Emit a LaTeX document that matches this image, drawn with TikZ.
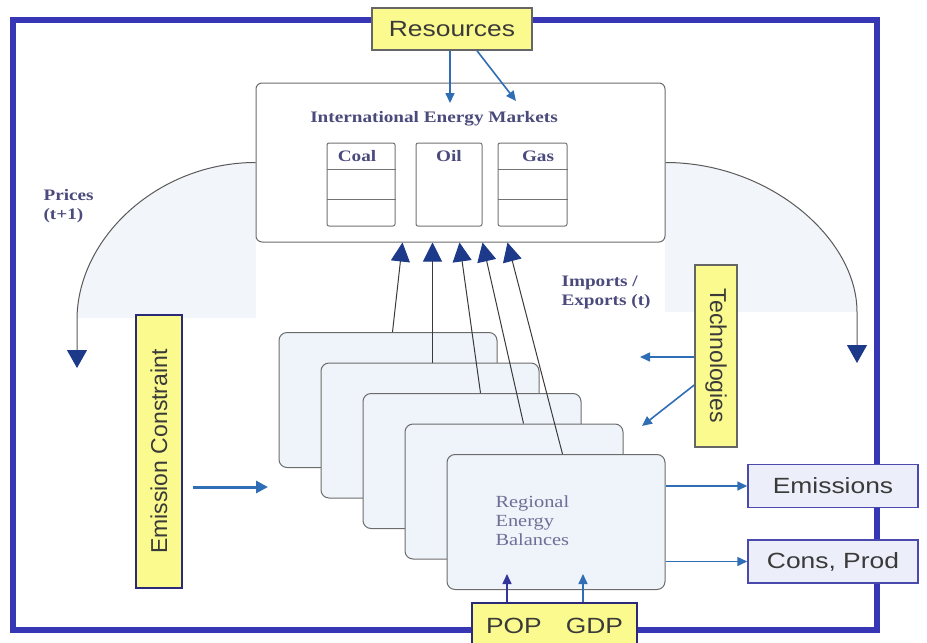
\documentclass[tikz,border=0pt]{standalone}
\usepackage{fontspec}
\setmainfont{Liberation Serif}[FakeStretch=1.2]
\setsansfont{Liberation Sans}[FakeStretch=1.2]
\newfontfamily\upsans{Liberation Sans}
\usetikzlibrary{arrows.meta,calc}
\definecolor{frameblue}{HTML}{3737B5}
\definecolor{tintblue}{HTML}{F2F6FB}
\definecolor{boxyellow}{HTML}{FBFA8E}
\definecolor{navy}{HTML}{2A2A78}
\definecolor{arrowblue}{HTML}{2F6DB5}
\definecolor{popviolet}{HTML}{34349A}
\definecolor{tipnavy}{HTML}{1D3A8A}
\definecolor{outfill}{HTML}{ECEEF9}
\definecolor{outdraw}{HTML}{4A4AAE}
\definecolor{regfill}{HTML}{EEF4FA}
\definecolor{inkgray}{HTML}{3A3A3A}
\definecolor{labelink}{HTML}{4A4A7C}
\tikzset{
  mktBox/.style={draw=gray!85!black, fill=white, rounded corners=6pt, line width=1pt},
  cellBox/.style={draw=gray!90!black, fill=white, rounded corners=2pt, line width=1pt},
  cellLine/.style={draw=gray!90!black, line width=1pt},
  regBox/.style={draw=gray!85!black, fill=regfill, rounded corners=8pt, line width=1pt},
  yellowBox/.style={draw=gray!80!black, fill=boxyellow, line width=1.5pt, text=inkgray, font=\sffamily\fontsize{22}{26}\selectfont},
  sideBox/.style={yellowBox, font=\upsans\fontsize{23}{26}\selectfont},
  outBox/.style={draw=outdraw, fill=outfill, line width=1.5pt, text=inkgray, font=\sffamily\fontsize{22}{26}\selectfont},
  noteLabel/.style={font=\bfseries\fontsize{16}{19}\selectfont, text=labelink, align=left},
  regLabel/.style={font=\fontsize{17}{19}\selectfont, text=labelink!80, align=left},
  blueArrow/.style={draw=arrowblue, line width=1.6pt, -{Triangle[length=10pt,width=9pt]}},
  thickArrow/.style={draw=arrowblue, line width=3pt, -{Triangle[length=12pt,width=12pt]}},
  popArrow/.style={draw=popviolet, line width=1.6pt, -{Triangle[length=10pt,width=9pt]}},
  importArrow/.style={draw=inkgray, line width=1pt, -{Triangle[length=19pt,width=19pt,color=tipnavy]}},
  priceArrow/.style={draw=gray!70!black, line width=1pt, -{Triangle[length=18pt,width=20pt,color=tipnavy]}}
}
\begin{document}
\begin{tikzpicture}[x=1pt,y=-1pt]
  \useasboundingbox (0,0) rectangle (927,643);
  \fill[tintblue] (77,318) .. controls (77,238) and (158,162.5) .. (256,162.5) -- (256,318) -- cycle;
  \fill[tintblue] (857,312) .. controls (857,238) and (769,162.5) .. (665,162.5) -- (665,312) -- cycle;
  \draw[frameblue, line width=6pt] (13,20) rectangle (877,630);

  \node[mktBox, minimum width=409pt, minimum height=159pt] (market) at (460.5,162.5) {};
  \node[noteLabel] (mkttitle) at (434,119) {International Energy Markets};
  \node[cellBox, minimum width=68pt, minimum height=83pt] (coal) at (361,184.5) {};
  \node[cellBox, minimum width=66pt, minimum height=83pt] (oil) at (449,184.5) {};
  \node[cellBox, minimum width=69pt, minimum height=83pt] (gas) at (532.5,184.5) {};
  \foreach \c in {coal,gas}
    \foreach \y in {169,199}
      \draw[cellLine] (\c.west |- 0,\y) -- (\c.east |- 0,\y);
  \node[noteLabel] (coallab) at (357,156) {Coal};
  \node[noteLabel] (oillab) at (449,156) {Oil};
  \node[noteLabel] (gaslab) at (538,156) {Gas};

  \node[yellowBox, minimum width=160pt, minimum height=42pt] (res) at (452,29) {Resources};
  \coordinate (r1) at (450,103);
  \coordinate (r2) at (516,101);
  \draw[blueArrow] ([xshift=-2pt]res.south) -- (r1);
  \draw[blueArrow] ([xshift=25pt]res.south) -- (r2);

  \coordinate (pl) at (77,368);
  \coordinate (pr) at (857,363);
  \draw[priceArrow] (market.west) .. controls (158,162.5) and (77,238) .. (77,320) -- (pl);
  \draw[priceArrow] (market.east) .. controls (769,162.5) and (857,238) .. (857,312) -- (pr);
  \node[noteLabel, anchor=west] (prices) at (40,206) {Prices\\(t+1)};
  \node[noteLabel, anchor=west] (imports) at (558,292) {Imports /\\Exports (t)};

  \foreach \i in {1,...,5}
    \node[regBox, minimum width=218pt, minimum height=135pt] (reg\i) at ({388+42*(\i-1)},{400+30.5*(\i-1)}) {};
  \node[regLabel, anchor=west] (reglab) at (492,521) {Regional\\Energy\\Balances};
  \foreach \i/\s/\t in {1/114/147, 2/112/177, 3/118/204, 4/119/227, 5/116/252}
    \draw[importArrow] ([xshift=\s pt]reg\i.north west) -- ([xshift=\t pt]market.south west);

  \node[sideBox, rotate=-90, minimum width=182pt, minimum height=42pt] (tech) at (716,356) {Technologies};
  \coordinate (t1) at (640,357);
  \coordinate (t2) at (642,426);
  \draw[blueArrow] ([yshift=-1pt]tech.south) -- (t1);
  \draw[blueArrow] ([yshift=-29pt]tech.south) -- (t2);

  \node[sideBox, draw=navy, rotate=90, minimum width=273pt, minimum height=46pt] (emc) at (159,451.5) {Emission Constraint};
  \coordinate (ec) at (268,487);
  \draw[thickArrow] ([xshift=10pt,yshift=-35.5pt]emc.south) -- (ec);

  \node[outBox, minimum width=170pt, minimum height=43pt] (emis) at (833,486) {Emissions};
  \node[outBox, minimum width=170pt, minimum height=43pt] (cons) at (833,561.5) {Cons, Prod};
  \draw[blueArrow] (reg5.east |- emis.west) -- (emis.west);
  \draw[blueArrow] (reg5.east |- cons.west) -- (cons.west);

  \node[yellowBox, draw=navy, minimum width=165pt, minimum height=46pt] (popgdp) at (554.5,626) {POP\hspace{24pt}GDP};
  \coordinate (pa) at (507,574);
  \coordinate (ga) at (583,574);
  \draw[popArrow] ([xshift=-47.5pt]popgdp.north) -- (pa);
  \draw[blueArrow] ([xshift=28.5pt]popgdp.north) -- (ga);
\end{tikzpicture}
\end{document}
